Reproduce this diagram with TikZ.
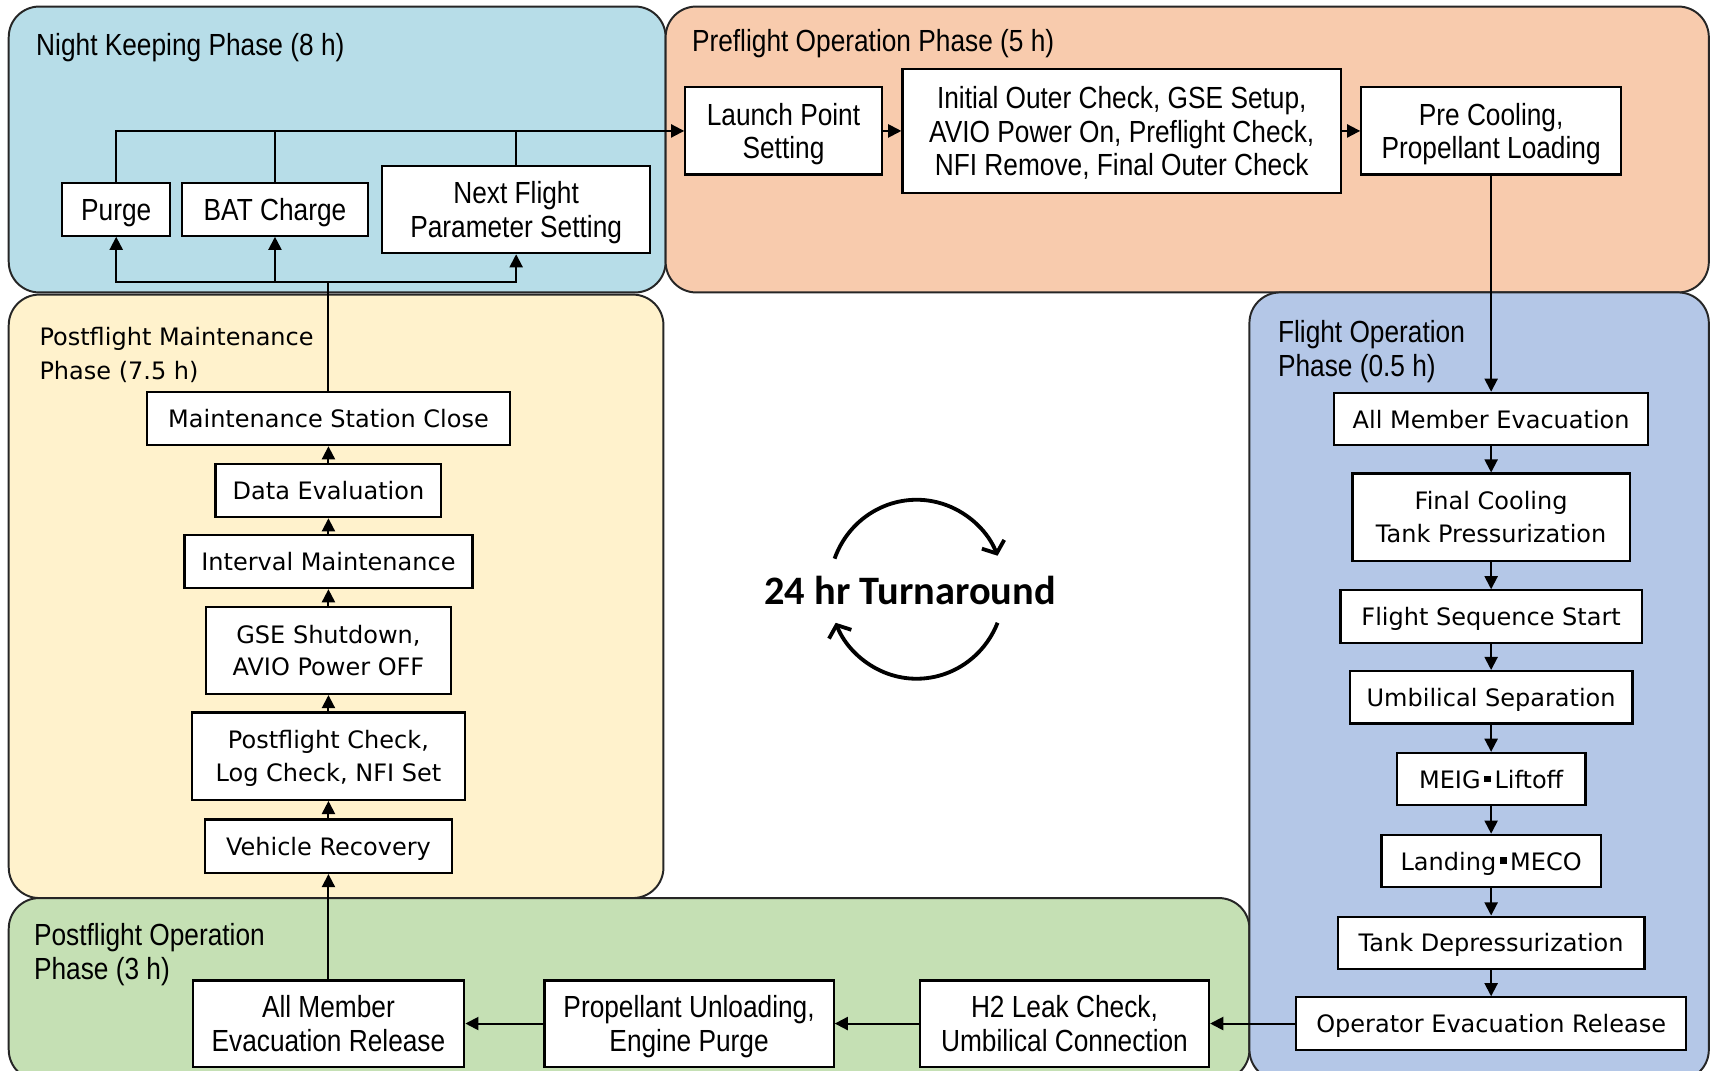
\documentclass[tikz,border=0pt]{standalone}
\usepackage{fontspec}
\setmainfont{DejaVu Sans}
\newfontfamily\condf[FakeStretch=0.86]{Liberation Sans}
\newfontfamily\boldf{Carlito}
\usetikzlibrary{arrows.meta}
\definecolor{nightc}{RGB}{183,221,232}
\definecolor{prec}{RGB}{248,203,173}
\definecolor{mainc}{RGB}{255,242,204}
\definecolor{flightc}{RGB}{180,199,231}
\definecolor{postc}{RGB}{197,224,180}
\newcommand\cfnt{\condf\fontsize{28}{31}\selectfont}
\newcommand\dfnt{\fontsize{22}{30}\selectfont}
\newcommand\jdot{\hspace{0.15em}\raisebox{0.25em}{\rule{0.28em}{0.28em}}\hspace{0.15em}}
\tikzset{
  phase/.style={draw=black!85, line width=1.8pt, rounded corners=28pt},
  pbox/.style={draw, line width=2pt, fill=white, inner sep=0pt, align=center},
  cbox/.style={pbox, font=\cfnt, text depth=-4pt},
  dbox/.style={pbox, font=\dfnt, text depth=-4pt},
  ttl/.style={inner sep=0pt, align=left, anchor=west},
  conn/.style={line width=1.8pt},
  arr/.style={conn, -{Triangle[length=12pt,width=12pt]}},
  turn/.style={line width=3.5pt, -{Straight Barb[length=9pt,width=22pt,line width=3.5pt]}}
}
\begin{document}
\begin{tikzpicture}[x=1pt,y=-1pt]
\useasboundingbox (0,0) rectangle (1568,981);
\clip (0,0) rectangle (1568,981);
% phases
\filldraw[phase, fill=nightc] (8,6) rectangle (610,268);
\filldraw[phase, fill=prec] (610,6) rectangle (1566,268);
\filldraw[phase, fill=mainc] (8,270) rectangle (608,823);
\filldraw[phase, fill=postc] (8,823) rectangle (1145,990);
\filldraw[phase, fill=flightc] (1145,268) rectangle (1566,990);
% titles
\node[ttl, font=\cfnt] (t1) at (33,44) {Night Keeping Phase (8 h)};
\node[ttl, font=\cfnt] (t2) at (634,40) {Preflight Operation Phase (5 h)};
\node[ttl, font=\fontsize{22}{31}\selectfont] (t3) at (36,325) {Postflight Maintenance\\Phase (7.5 h)};
\node[ttl, font=\cfnt] (t4) at (1171,322) {Flight Operation\\Phase (0.5 h)};
\node[ttl, font=\cfnt] (t5) at (31,875) {Postflight Operation\\Phase (3 h)};
% night keeping
\node[cbox, minimum width=99pt, minimum height=48pt] (purge) at (106.5,192) {Purge};
\node[cbox, minimum width=170pt, minimum height=48pt] (bat) at (252,192) {BAT Charge};
\node[cbox, minimum width=246pt, minimum height=80pt] (nfp) at (473,192) {Next Flight\\Parameter Setting};
% preflight
\node[cbox, minimum width=180pt, minimum height=80pt] (lps) at (718,120) {Launch Point\\Setting};
\node[cbox, minimum width=402pt, minimum height=113pt] (ioc) at (1028,120) {Initial Outer Check, GSE Setup,\\AVIO Power On, Preflight Check,\\NFI Remove, Final Outer Check};
\node[cbox, minimum width=238pt, minimum height=80pt] (pcl) at (1366.5,120) {Pre Cooling,\\Propellant Loading};
% flight operation
\node[dbox, minimum width=288pt, minimum height=48pt] (ame) at (1366.5,384) {All Member Evacuation};
\node[dbox, minimum width=254pt, minimum height=80pt] (fct) at (1366.5,474) {Final Cooling\\Tank Pressurization};
\node[dbox, minimum width=276pt, minimum height=48pt] (fss) at (1366.5,565) {Flight Sequence Start};
\node[dbox, minimum width=259pt, minimum height=48pt] (us) at (1366.5,639) {Umbilical Separation};
\node[dbox, minimum width=173pt, minimum height=48pt] (meig) at (1366.5,714) {MEIG\jdot Liftoff};
\node[dbox, minimum width=201pt, minimum height=48pt] (lm) at (1366.5,789) {Landing\jdot MECO};
\node[dbox, minimum width=281pt, minimum height=48pt] (td) at (1366.5,864) {Tank Depressurization};
\node[dbox, minimum width=357pt, minimum height=48pt] (oer) at (1366.5,938) {Operator Evacuation Release};
% postflight operation
\node[cbox, minimum width=265pt, minimum height=79pt] (h2) at (975.5,938) {H2 Leak Check,\\Umbilical Connection};
\node[cbox, minimum width=265pt, minimum height=79pt] (pu) at (631.5,938) {Propellant Unloading,\\Engine Purge};
\node[cbox, minimum width=249pt, minimum height=79pt] (amer) at (301,938) {All Member\\Evacuation Release};
% postflight maintenance
\node[dbox, minimum width=227pt, minimum height=49pt] (vr) at (301,775.5) {Vehicle Recovery};
\node[dbox, minimum width=250pt, minimum height=80pt] (pc) at (301,693) {Postflight Check,\\Log Check, NFI Set};
\node[dbox, minimum width=225pt, minimum height=80pt] (gse) at (301,596) {GSE Shutdown,\\AVIO Power OFF};
\node[dbox, minimum width=264pt, minimum height=49pt] (im) at (301,514.5) {Interval Maintenance};
\node[dbox, minimum width=207pt, minimum height=49pt] (de) at (301,449.5) {Data Evaluation};
\node[dbox, minimum width=332pt, minimum height=49pt] (msc) at (301,383.5) {Maintenance Station Close};
% connectors night keeping
\draw[arr] (purge.north) |- (lps.west);
\draw[conn] (bat.north) -- (bat.north |- lps.west);
\draw[conn] (nfp.north) -- (nfp.north |- lps.west);
\coordinate (jb) at (301,258);
\draw[conn] (msc.north) -- (jb);
\draw[arr] (jb) -| (purge.south);
\draw[arr] (jb) -| (bat.south);
\draw[arr] (jb) -| (nfp.south);
% preflight
\draw[arr] (lps.east) -- (ioc.west);
\draw[arr] (ioc.east) -- (pcl.west);
\draw[arr] (pcl.south) -- (ame.north);
% flight
\draw[arr] (ame.south) -- (fct.north);
\draw[arr] (fct.south) -- (fss.north);
\draw[arr] (fss.south) -- (us.north);
\draw[arr] (us.south) -- (meig.north);
\draw[arr] (meig.south) -- (lm.north);
\draw[arr] (lm.south) -- (td.north);
\draw[arr] (td.south) -- (oer.north);
% postflight op
\draw[arr] (oer.west) -- (h2.east);
\draw[arr] (h2.west) -- (pu.east);
\draw[arr] (pu.west) -- (amer.east);
\draw[arr] (amer.north) -- (vr.south);
% maintenance
\draw[arr] (vr.north) -- (pc.south);
\draw[arr] (pc.north) -- (gse.south);
\draw[arr] (gse.north) -- (im.south);
\draw[arr] (im.north) -- (de.south);
\draw[arr] (de.north) -- (msc.south);
% center
\node[inner sep=0pt, font=\boldf\bfseries\fontsize{37}{40}\selectfont] (tt) at (834,541) {24 hr Turnaround};
\coordinate (tc) at (840,540);
\draw[turn] (tc) ++(-160:80 and 82) arc[start angle=-160, end angle=-22, x radius=80, y radius=82];
\draw[turn] (tc) ++(22:80 and 82) arc[start angle=22, end angle=158, x radius=80, y radius=82];
\end{tikzpicture}
\end{document}
